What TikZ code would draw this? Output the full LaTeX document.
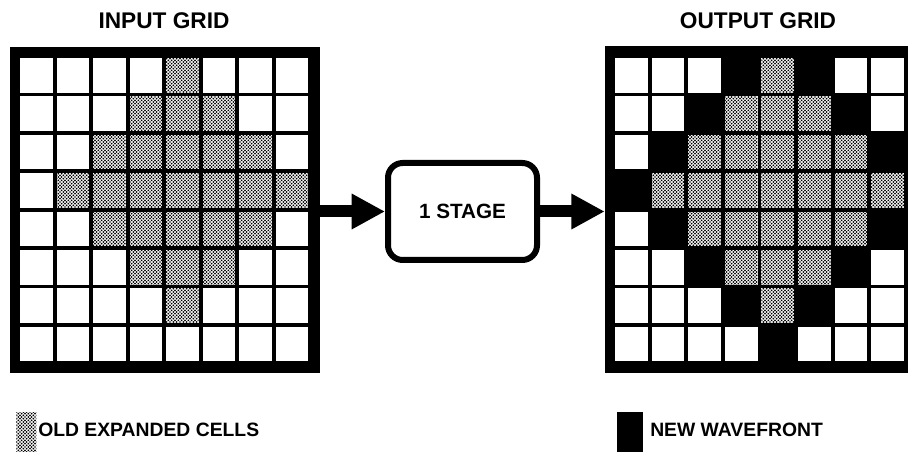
\documentclass[tikz,border=0pt]{standalone}
\usepackage{fontspec}
\setmainfont{Liberation Sans}
\usetikzlibrary{arrows.meta,patterns}
\pgfdeclarepatternformonly{stipple}{\pgfpoint{-1pt}{-1pt}}{\pgfpoint{3pt}{3pt}}{\pgfpoint{2.5pt}{2.5pt}}{%
  \pgfpathcircle{\pgfpoint{0pt}{0pt}}{0.72pt}%
  \pgfpathcircle{\pgfpoint{1.25pt}{1.25pt}}{0.72pt}%
  \pgfusepath{fill}}
\tikzset{
  frame/.style={fill=black, draw=none, inner sep=0pt, minimum width=232.5pt},
  plaincell/.style={fill=white},
  shadedcell/.style={fill=white, postaction={pattern=stipple, pattern color=black}},
  stagebox/.style={draw=black, line width=4.5pt, rounded corners=11pt, fill=white,
    minimum width=111.75pt, minimum height=72.75pt, inner sep=0pt, font=\bfseries\fontsize{15.5}{18}\selectfont},
  bigarrow/.style={line width=9pt, -{Triangle[length=25pt,width=25pt]}},
  title/.style={font=\bfseries\fontsize{17}{20}\selectfont, inner sep=0pt},
  legend/.style={font=\bfseries\fontsize{14.5}{17}\selectfont, inner sep=0pt, anchor=west},
}
\begin{document}
\begin{tikzpicture}[x=0.75pt,y=-0.75pt]
\useasboundingbox (0,0) rectangle (908,452);
\clip (0,0) rectangle (908,452);
% titles
\node[title] (intitle) at (164,21) {INPUT GRID};
\node[title] (outtitle) at (758,21) {OUTPUT GRID};
% frames
\node[frame, minimum height=244.5pt] (ingrid) at (165,210) {};
\node[frame, minimum height=245.25pt] (outgrid) at (760,209.5) {};
% input cells
\foreach \r in {0,...,7}{
  \foreach \c in {0,...,7}{
    \pgfmathtruncatemacro{\d}{abs(\r-3)+abs(\c-4)}
    \pgfmathsetmacro{\xa}{20+\c*36.5}
    \pgfmathsetmacro{\ya}{58+\r*38.4}
    \ifnum\d<4
      \path[shadedcell] (\xa,\ya) rectangle ++(32.7,34.6);
    \else
      \path[plaincell] (\xa,\ya) rectangle ++(32.7,34.6);
    \fi
  }
}
% output cells
\foreach \r in {0,...,7}{
  \foreach \c in {0,...,7}{
    \pgfmathtruncatemacro{\d}{abs(\r-3)+abs(\c-4)}
    \pgfmathsetmacro{\xa}{615+\c*36.6}
    \pgfmathsetmacro{\ya}{58+\r*38.4}
    \ifnum\d<4
      \path[shadedcell] (\xa,\ya) rectangle ++(32.8,34.6);
    \else\ifnum\d>4
      \path[plaincell] (\xa,\ya) rectangle ++(32.8,34.6);
    \fi\fi
  }
}
% stage
\node[stagebox] (stage) at (462.5,211.5) {1 STAGE};
\draw[bigarrow] (stage.west -| ingrid.east) -- (stage.west);
\draw[bigarrow] (stage.east) -- (stage.east -| outgrid.west);
% legend
\node[shadedcell, minimum width=15pt, minimum height=36pt, inner sep=0pt, anchor=north west] (oldkey) at (16,412) {};
\node[legend] (oldlabel) at (38,430) {OLD EXPANDED CELLS};
\node[fill=black, minimum width=19pt, minimum height=36pt, inner sep=0pt, anchor=north west] (newkey) at (617,412) {};
\node[legend] (newlabel) at (650,430) {NEW WAVEFRONT};
\end{tikzpicture}
\end{document}
